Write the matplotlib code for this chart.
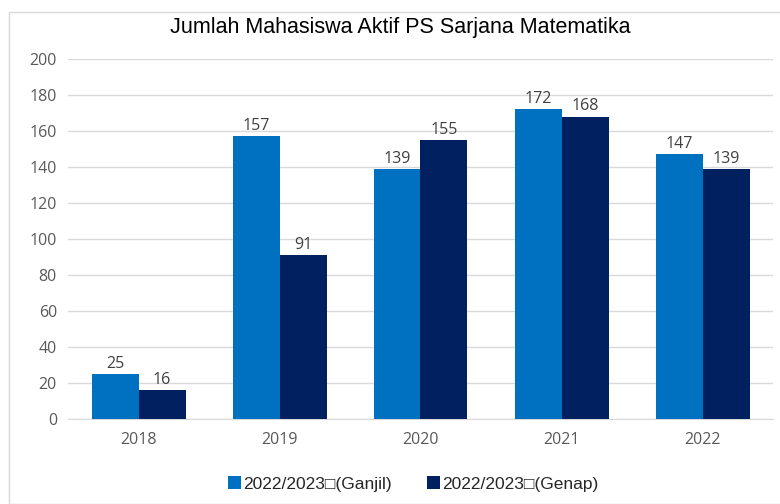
import matplotlib
matplotlib.use("Agg")
import matplotlib.pyplot as plt
import numpy as np
from matplotlib.patches import Rectangle

years = ["2018", "2019", "2020", "2021", "2022"]
ganjil = [25, 157, 139, 172, 147]
genap = [16, 91, 155, 168, 139]
series_labels = ["2022/2023\u25a1(Ganjil)", "2022/2023\u25a1(Genap)"]
yticks = [0, 20, 40, 60, 80, 100, 120, 140, 160, 180, 200]

fig = plt.figure(figsize=(7.8, 5.04), dpi=100)
fig.patches.append(Rectangle((9/780, 0), 1, 1 - 12/504, transform=fig.transFigure,
                             fill=False, edgecolor="#d9d9d9", linewidth=1))
ax = fig.add_axes([68/780, 1 - 419/504, (773-68)/780, (419-59)/504])

x = np.arange(len(years))
w = 1/3
b1 = ax.bar(x - w/2, ganjil, w, color="#0070C0", label=series_labels[0], zorder=3)
b2 = ax.bar(x + w/2, genap, w, color="#002060", label=series_labels[1], zorder=3)

lab_font = dict(fontsize=11.5, color="#404040", family="Open Sans")
for bars, vals in ((b1, ganjil), (b2, genap)):
    for r, v in zip(bars, vals):
        ax.text(r.get_x() + r.get_width()/2, v + 1.2, str(v), ha="center", va="bottom", **lab_font)

ax.set_xlim(-0.5, len(years) - 0.5)
ax.set_ylim(0, 200)
ax.set_yticks(yticks)
ax.set_xticks(x)
ax.set_xticklabels(years)
ax.yaxis.grid(True, color="#d9d9d9", linewidth=1, zorder=0)
for s in ax.spines.values():
    s.set_visible(False)
ax.spines["bottom"].set_visible(True)
ax.spines["bottom"].set_color("#d9d9d9")
ax.tick_params(axis="both", length=0, labelsize=11.5, labelcolor="#595959")
ax.tick_params(axis="y", pad=8)
ax.tick_params(axis="x", pad=9)
for t in ax.get_xticklabels() + ax.get_yticklabels():
    t.set_family("Open Sans")

fig.text(400/780, 1 - 27/504, "Jumlah Mahasiswa Aktif PS Sarjana Matematika", ha="center", va="center",
         fontsize=15.5, family="Liberation Sans", color="#000000")

leg = fig.legend(handles=[b1, b2], labels=series_labels, loc="center", bbox_to_anchor=(413/780, 1 - 484/504),
                 ncol=2, frameon=False, prop={"family": "Liberation Sans", "size": 12.5},
                 handlelength=0.75, handleheight=0.75, handletextpad=0.15, columnspacing=2.0)
for t in leg.get_texts():
    t.set_color("#262626")

fig.savefig("out.png", dpi=100)
